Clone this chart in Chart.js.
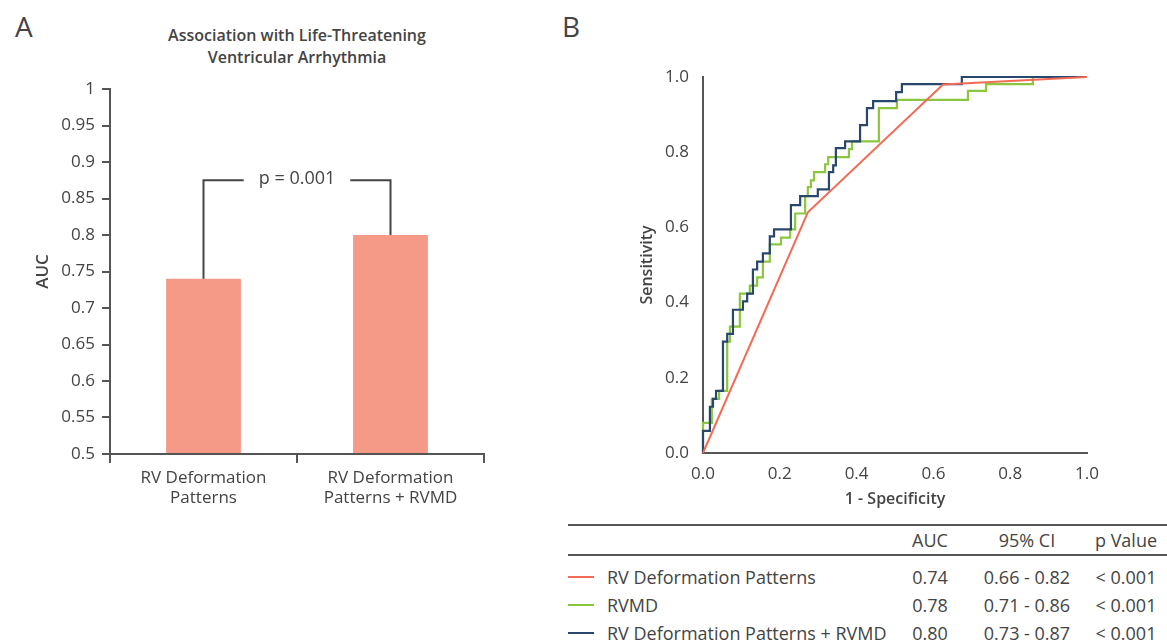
<!DOCTYPE html>
<html>
<head>
<meta charset="utf-8">
<script src="https://cdn.jsdelivr.net/npm/chart.js@4.4.1/dist/chart.umd.min.js"></script>
<style>
  body { margin: 0; width: 1167px; height: 643px; background: #fff; overflow: hidden; position: relative; font-family: 'Open Sans', sans-serif; color: #444; }
  .abs { position: absolute; }
  .letter { font-size: 28px; line-height: 28px; font-weight: 500; }
  #titleA { left: 110px; width: 374px; top: 24px; text-align: center; font-size: 16px; font-weight: 600; line-height: 22px; }
  #wrapA { left: 0; top: 0; width: 560px; height: 530px; }
  #wrapB { left: 620px; top: 0; width: 500px; height: 515px; }
  .rule { left: 568px; width: 599px; height: 2px; background: #555; }
  .cell { font-size: 18px; line-height: 20px; white-space: nowrap; }
  .c { width: 120px; text-align: center; }
  .key { left: 568px; width: 26px; height: 2px; }
</style>
</head>
<body>
<div class="abs letter" style="left:15px;top:12px;">A</div>
<div class="abs letter" style="left:562px;top:12px;">B</div>
<div id="titleA" class="abs">Association with Life-Threatening<br>Ventricular Arrhythmia</div>
<div id="wrapA" class="abs"><canvas id="chartA"></canvas></div>
<div id="wrapB" class="abs"><canvas id="chartB"></canvas></div>
<div id="table"></div>
<script>
// panel A: AUC bars
const categories = [['RV Deformation', 'Patterns'], ['RV Deformation', 'Patterns + RVMD']];
const aucValues = [0.74, 0.80];
const aucTicks = [0.5, 0.55, 0.6, 0.65, 0.7, 0.75, 0.8, 0.85, 0.9, 0.95, 1];
const bracketLevel = 0.875;
const pLabel = 'p = 0.001';

// panel B: ROC curves (1 - specificity, sensitivity)
const rocTicks = [0, 0.2, 0.4, 0.6, 0.8, 1];
const fprPatterns = [0, 0.273, 0.625, 1];
const tprPatterns = [0, 0.64, 0.98, 1];
const fprRvmd = [0, 0, 0.023, 0.042, 0.063, 0.070, 0.096, 0.122, 0.141, 0.156, 0.174, 0.203, 0.227, 0.240, 0.266, 0.273, 0.281, 0.289, 0.318, 0.326, 0.380, 0.388, 0.458, 0.505, 0.690, 0.737, 0.859, 1];
const tprRvmd = [0, 0.080, 0.144, 0.165, 0.296, 0.336, 0.424, 0.445, 0.467, 0.509, 0.555, 0.573, 0.595, 0.637, 0.683, 0.707, 0.725, 0.747, 0.768, 0.787, 0.808, 0.829, 0.917, 0.939, 0.963, 0.981, 1, 1];
const fprCombined = [0, 0, 0.018, 0.026, 0.034, 0.052, 0.063, 0.078, 0.104, 0.115, 0.130, 0.141, 0.156, 0.174, 0.185, 0.229, 0.253, 0.299, 0.328, 0.339, 0.346, 0.370, 0.409, 0.427, 0.443, 0.503, 0.518, 0.674, 1];
const tprCombined = [0, 0.059, 0.123, 0.144, 0.165, 0.296, 0.317, 0.381, 0.403, 0.424, 0.488, 0.509, 0.531, 0.576, 0.595, 0.659, 0.683, 0.701, 0.747, 0.765, 0.811, 0.829, 0.872, 0.917, 0.936, 0.960, 0.981, 1, 1];

// table under panel B
const seriesNames = ['RV Deformation Patterns', 'RVMD', 'RV Deformation Patterns + RVMD'];
const aucTable = ['0.74', '0.78', '0.80'];
const ciTable = ['0.66 - 0.82', '0.71 - 0.86', '0.73 - 0.87'];
const pTable = ['< 0.001', '< 0.001', '< 0.001'];

const seriesColors = ['#f36b55', '#8cc63f', '#28476c'];
const ink = '#444';
const axisColor = '#555';

Chart.defaults.font.family = "'Open Sans', sans-serif";
Chart.defaults.font.size = 17;
Chart.defaults.color = ink;

// --- bracket with p value ---
const bracketPlugin = {
    id: 'bracket',
    afterDatasetsDraw(chart) {
        const { ctx, scales: { x, y } } = chart;
        const x0 = x.getPixelForValue(0), x1 = x.getPixelForValue(1);
        const yb = y.getPixelForValue(bracketLevel);
        const mid = (x0 + x1) / 2;
        ctx.save();
        ctx.font = "18px 'Open Sans'";
        const half = ctx.measureText(pLabel).width / 2 + 15;
        ctx.strokeStyle = ink; ctx.lineWidth = 2;
        ctx.beginPath();
        ctx.moveTo(x0, y.getPixelForValue(aucValues[0]));
        ctx.lineTo(x0, yb); ctx.lineTo(mid - half, yb);
        ctx.moveTo(mid + half, yb); ctx.lineTo(x1, yb);
        ctx.lineTo(x1, y.getPixelForValue(aucValues[1]));
        ctx.stroke();
        ctx.fillStyle = ink; ctx.textAlign = 'center'; ctx.textBaseline = 'middle';
        ctx.fillText(pLabel, mid, yb - 1);
        ctx.restore();
    }
};

new Chart(document.getElementById('chartA'), {
    type: 'bar',
    data: { labels: categories, datasets: [{ data: aucValues, base: 0.5, backgroundColor: '#f49a86', categoryPercentage: 1, barPercentage: 0.4 }] },
    options: {
        responsive: true, maintainAspectRatio: false, animation: false,
        layout: { padding: { left: 29, top: 89, right: 76, bottom: 0 } },
        plugins: { legend: { display: false }, tooltip: { enabled: false } },
        scales: {
            x: {
                afterFit: s => { s.height = 76; },
                grid: { drawOnChartArea: false, offset: true, tickLength: 9, color: axisColor, lineWidth: 2 },
                border: { color: axisColor, width: 2 },
                ticks: { padding: 5, maxRotation: 0 }
            },
            y: {
                min: 0.5, max: 1,
                afterBuildTicks: s => { s.ticks = aucTicks.map(v => ({ value: v })); },
                afterFit: s => { s.width = 81; },
                grid: { drawOnChartArea: false, tickLength: 8, color: axisColor, lineWidth: 2 },
                border: { color: axisColor, width: 2 },
                ticks: { padding: 7, callback: v => String(+v.toFixed(2)) },
                title: { display: true, text: 'AUC', font: { size: 17, weight: '600' } }
            }
        }
    },
    plugins: [bracketPlugin]
});

const toPoints = (xs, ys) => xs.map((v, i) => ({ x: v, y: ys[i] }));

new Chart(document.getElementById('chartB'), {
    type: 'line',
    data: {
        datasets: [
            { label: seriesNames[0], data: toPoints(fprPatterns, tprPatterns), borderColor: seriesColors[0], borderWidth: 2, pointRadius: 0, clip: 3 },
            { label: seriesNames[2], data: toPoints(fprCombined, tprCombined), borderColor: seriesColors[2], borderWidth: 2.2, pointRadius: 0, stepped: 'before', clip: 3 },
            { label: seriesNames[1], data: toPoints(fprRvmd, tprRvmd), borderColor: seriesColors[1], borderWidth: 2.2, pointRadius: 0, stepped: 'before', clip: 3 }
        ]
    },
    options: {
        responsive: true, maintainAspectRatio: false, animation: false,
        layout: { padding: { left: 14, top: 77, right: 33, bottom: 2 } },
        plugins: { legend: { display: false }, tooltip: { enabled: false } },
        scales: {
            x: {
                type: 'linear', min: 0, max: 1,
                afterBuildTicks: s => { s.ticks = rocTicks.map(v => ({ value: v })); },
                afterFit: s => { s.height = 60; },
                grid: { display: false },
                border: { color: axisColor, width: 2 },
                ticks: { padding: 3, maxRotation: 0, callback: v => v.toFixed(1) },
                title: { display: true, text: '1 - Specificity', font: { size: 16, weight: '600' } }
            },
            y: {
                type: 'linear', min: 0, max: 1,
                afterBuildTicks: s => { s.ticks = rocTicks.map(v => ({ value: v })); },
                afterFit: s => { s.width = 69; },
                grid: { display: false },
                border: { color: axisColor, width: 2 },
                ticks: { padding: 6, callback: v => v.toFixed(1) },
                title: { display: true, text: 'Sensitivity', font: { size: 16, weight: '600' } }
            }
        }
    }
});

// --- table ---
const table = document.getElementById('table');
const add = (cls, style, text) => {
    const d = document.createElement('div');
    d.className = 'abs ' + cls; d.style.cssText = style; d.textContent = text;
    table.appendChild(d);
};
add('rule', 'top:524px;', '');
add('rule', 'top:554px;', '');
const cols = [930, 1027, 1126];
['AUC', '95% CI', 'p Value'].forEach((h, j) => add('cell c', `left:${cols[j] - 60}px;top:530px;`, h));
seriesNames.forEach((name, i) => {
    const top = 567 + i * 28;
    add('key', `top:${top + 9}px;background:${seriesColors[i]};`, '');
    add('cell', `left:607px;top:${top}px;`, name);
    add('cell c', `left:${cols[0] - 60}px;top:${top}px;`, aucTable[i]);
    add('cell c', `left:${cols[1] - 60}px;top:${top}px;`, ciTable[i]);
    add('cell c', `left:${cols[2] - 60}px;top:${top}px;`, pTable[i]);
});
</script>
</body>
</html>
